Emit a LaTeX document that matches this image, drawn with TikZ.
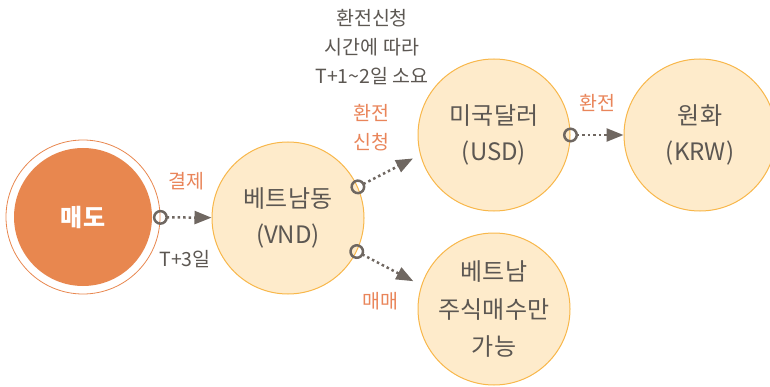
\documentclass[tikz,border=0pt]{standalone}
\usepackage{fontspec}
\setmainfont{Noto Sans CJK KR}
\usetikzlibrary{arrows.meta}

\definecolor{peach}{HTML}{FEEBCB}
\definecolor{rim}{HTML}{F8B74A}
\definecolor{sellorange}{HTML}{E8874F}
\definecolor{tagorange}{HTML}{E9855A}
\definecolor{txtgray}{HTML}{5C5752}
\definecolor{flowgray}{HTML}{6F6761}

\tikzset{
	coin/.style={circle, draw=rim, fill=peach, line width=1pt, minimum size=152pt,
		inner sep=0pt, align=center, text=txtgray, font=\fontsize{24}{36.5}\selectfont},
	flow/.style={draw=flowgray, line width=2.5pt, dash pattern=on 2.5pt off 3pt,
		{Circle[open,length=15pt,width=15pt]}-{Triangle[length=17pt,width=13pt]},
		shorten <=-7.5pt},
	tag/.style={text=tagorange, align=center, font=\fontsize{19.5}{29}\selectfont},
	note/.style={text=txtgray, align=center, font=\fontsize{19.5}{29}\selectfont}
}

\begin{document}
\begin{tikzpicture}[x=1pt,y=1pt]
	\useasboundingbox (0,0) rectangle (770,386);

	%the sale: thin outer ring round a filled disc
	\node[circle, draw=sellorange, line width=0.8pt, minimum size=154pt, inner sep=0pt,
		path picture={\fill[sellorange] (path picture bounding box.center) circle (69pt);},
		text=white, font=\fontsize{24}{30}\selectfont\bfseries] (sell) at (83,169) {매도};

	%the currencies
	\node[coin] (vnd) at (288,168) {베트남동\\(VND)};
	\node[coin] (usd) at (494,251) {미국달러\\(USD)};
	\node[coin] (krw) at (700,251) {원화\\(KRW)};
	\node[coin, font=\fontsize{24}{37.5}\selectfont] (stock) at (494,77) {베트남\\주식매수만\\가능};

	%the flows between them
	\draw[flow] (sell) -- (vnd);
	\draw[flow, shorten >=8pt] (vnd.24) -- (usd.195);
	\draw[flow, shorten >=9pt] (vnd.-26) -- (stock.162);
	\draw[flow] (usd) -- (krw);

	%labels of the flows
	\node[tag] (settle) at (186,205) {결제};
	\node[note] (settledays) at (185,127) {T+3일};
	\node[tag] (request) at (371,258) {환전\\신청};
	\node[tag] (trade) at (380,85) {매매};
	\node[tag] (exchange) at (597,283) {환전};
	\node[note] (requestdays) at (372,339) {환전신청\\시간에 따라\\T+1\textasciitilde2일 소요};
\end{tikzpicture}
\end{document}
